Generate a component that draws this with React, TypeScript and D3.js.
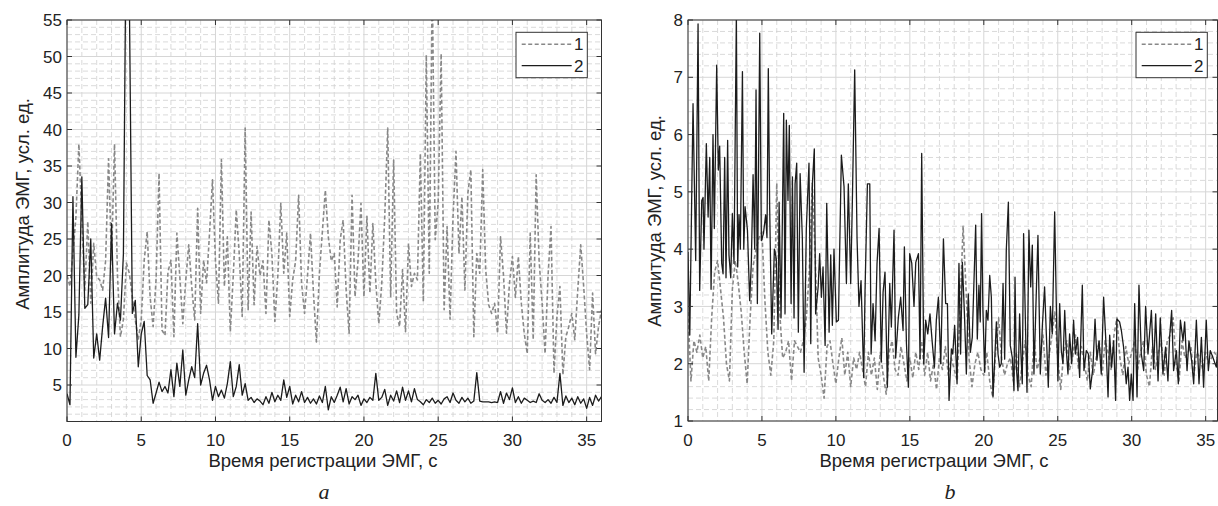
import React from 'react';
import * as d3 from 'd3';

const STEP = 0.2;

const xTicks = [0, 5, 10, 15, 20, 25, 30, 35];
const aYTicks = [5, 10, 15, 20, 25, 30, 35, 40, 45, 50, 55];
const bYTicks = [1, 2, 3, 4, 5, 6, 7, 8];
const legendLabels = ['1', '2'];
const xTitle = 'Время регистрации ЭМГ, с';
const yTitle = 'Амплитуда ЭМГ, усл. ед.';

// panel a, curve 1 (dashed grey)
const a1 = [
  20, 18.5, 23, 28, 38, 27.6, 18, 27.4, 16.2, 24.4,
  19.8, 19.4, 18, 22, 36, 22, 38, 20, 11.6, 14,
  21.7, 20.3, 17.1, 13.9, 11.2, 13.9, 22.1, 26, 17, 13,
  19.5, 34, 12.5, 11.8, 20.5, 22.1, 11.6, 25.8, 19.8, 13.4,
  19.4, 24.2, 18.5, 13.9, 29.2, 14.8, 22.1, 19, 25.8, 33.1,
  22, 16.2, 35.9, 18.5, 25.3, 12.3, 20, 29, 23, 14.4,
  40.2, 15.3, 28.7, 16, 24, 20, 22, 14.8, 27.6, 23,
  13.7, 20, 29.9, 20.3, 25.8, 14.4, 19.4, 22, 31, 18.9,
  14.8, 20, 25.8, 17.6, 10.9, 20.3, 26, 31.7, 25.3, 22,
  23, 15.7, 24.9, 27.6, 18, 12.1, 31, 17.1, 22, 29.9,
  17.1, 28.1, 17.6, 27.1, 19, 13.4, 18.9, 28, 40.2, 17.1,
  35.8, 14.8, 13, 20.8, 12.3, 24.4, 18.5, 20.3, 19.4, 36.7,
  16.4, 50.2, 20.3, 60, 24.9, 30, 50.4, 15.3, 26.7, 14,
  28, 37, 23, 30.8, 18, 31.3, 34.5, 11.6, 23, 20.3,
  34.5, 20.8, 16, 14.8, 16.2, 12.1, 25.3, 20, 12.1, 18.9,
  22.6, 17, 22.6, 16.2, 12, 9.3, 25.8, 11.2, 33.8, 22,
  16.2, 9.3, 20, 26.7, 6.6, 14.4, 18.5, 6.4, 11.6, 13,
  14.8, 11.2, 18, 24.2, 18.5, 12, 7.1, 17.6, 9.3, 13,
  15.3,
];

// panel a, curve 2 (solid black)
const a2 = [
  3.8, 2.3, 30.8, 8.8, 14.6, 33.5, 15.5, 16, 25, 8.7,
  12, 8.4, 13, 16.9, 11.5, 27.1, 12, 16.2, 13.9, 23,
  72, 58, 14.8, 16.6, 7.5, 12, 13.7, 6.3, 5.7, 2.5,
  3.9, 5.4, 4.1, 4.8, 3.9, 7.1, 3.4, 8, 4.8, 9.8,
  3.6, 5.7, 7.5, 6, 13.4, 5, 6.6, 7.7, 5.7, 2.9,
  4.8, 3.4, 4.3, 3.2, 5.2, 8.2, 3.4, 4.8, 7.8, 3.6,
  5.2, 2.9, 3.3, 2.6, 3.1, 2.8, 2.3, 3.4, 2.5, 4.0,
  2.7, 3.6, 2.9, 5.7, 3.3, 4.8, 2.4, 3.6, 2.7, 4.1,
  2.6, 3.3, 2.5, 3.1, 2.4, 3.5, 2.6, 4.8, 1.6, 3.4,
  2.6, 3.6, 4.7, 2.7, 4.5, 2.4, 3.4, 3.0, 3.6, 2.2,
  3.1, 2.6, 3.3, 2.9, 6.6, 2.9, 3.3, 4.4, 2.2, 3.6,
  2.8, 4.2, 2.6, 4.7, 2.9, 4.2, 2.7, 4.5, 3.0, 2.7,
  2.3, 3.0, 2.6, 3.2, 2.5, 2.9, 2.4, 3.1, 3.4, 2.6,
  3.9, 2.9, 2.5, 3.3, 2.7, 3.2, 2.5, 2.8, 6.7, 2.8,
  2.7, 2.7, 2.7, 2.6, 2.7, 2.6, 4.1, 2.5, 3.9, 3.0,
  4.6, 2.6, 3.4, 2.5, 3.2, 2.9, 2.6, 2.8, 2.6, 3.8,
  2.9, 2.6, 3.0, 2.5, 3.3, 2.6, 6.6, 2.2, 3.5, 2.6,
  3.2, 2.3, 3.4, 2.5, 3.1, 1.8, 3.3, 2.2, 3.6, 2.8,
  3.4,
];

// panel b, curve 1 (dashed grey)
const b1 = [
  2.9, 1.7, 2.4, 2.2, 2.5, 2.1, 2.3, 1.7, 2.8, 3.6,
  3.8, 3.3, 2.8, 2.0, 1.7, 3.3, 3.8, 3.4, 2.9, 2.2,
  1.65, 2.8, 3.7, 4.0, 4.2, 4.3, 3.1, 2.2, 1.8, 2.4,
  5.15, 2.9, 2.1, 2.2, 2.4, 1.7, 2.4, 2.3, 2.2, 2.4,
  2.8, 3.6, 5.15, 3.9, 2.1, 1.8, 1.4, 2.3, 2.4, 2.0,
  1.65, 2.1, 2.45, 1.8, 2.2, 1.6, 2.1, 1.9, 2.2, 1.9,
  1.6, 2.2, 1.8, 2.1, 1.55, 2.2, 1.8, 1.47, 2.2, 2.4,
  1.9, 1.8, 2.3, 2.0, 1.7, 2.1, 1.75, 2.2, 1.9, 2.4,
  1.8, 2.2, 1.7, 2.0, 1.55, 2.1, 1.9, 2.3, 1.8, 2.1,
  1.9, 1.7, 3.0, 4.4, 3.3, 2.1, 1.6, 2.0, 2.2, 1.9,
  1.8, 2.2, 1.7, 1.42, 2.2, 2.8, 2.1, 1.8, 2.0, 2.1,
  1.7, 2.2, 1.6, 2.0, 2.4, 1.8, 1.6, 2.4, 1.9, 2.1,
  2.5, 1.8, 2.1, 2.5, 2.9, 2.1, 1.55, 2.2, 2.4, 1.9,
  2.1, 2.5, 1.9, 2.3, 2.0, 1.7, 2.2, 1.8, 2.1, 2.4,
  1.8, 2.4, 2.2, 1.9, 2.5, 2.8, 2.1, 1.8, 2.3, 2.0,
  2.2, 2.4, 1.9, 2.2, 2.4, 1.8, 1.6, 2.3, 1.9, 2.2,
  2.4, 1.8, 2.4, 2.5, 2.8, 2.0, 1.7, 2.4, 2.1, 2.2,
  2.3, 1.8, 2.2, 2.1, 1.9, 2.2, 2.0, 2.1, 2.2, 2.1,
];

// panel b, curve 2 (solid black): [time, s; amplitude] read at each turning point
const b2: [number, number][] = [
  [0, 3.95], [0.12, 2.5], [0.34, 6.54], [0.52, 3.8], [0.68, 7.93], [0.79, 3.28], [0.93, 4.85], [1.02, 4.9],
  [1.08, 4.0], [1.24, 5.84], [1.36, 4.56], [1.47, 5.6], [1.56, 3.3], [1.69, 6.0], [1.78, 4.36], [1.94, 7.21],
  [2.05, 5.38], [2.14, 5.8], [2.28, 3.75], [2.37, 3.57], [2.48, 5.6], [2.57, 3.5], [2.68, 5.9], [2.77, 3.9],
  [2.89, 3.5], [3.0, 4.62], [3.11, 3.75], [3.27, 8.1], [3.36, 3.69], [3.45, 4.6], [3.54, 4.0], [3.68, 7.1],
  [3.77, 4.0], [3.86, 4.74], [4.02, 4.33], [4.17, 3.1], [4.28, 3.75], [4.4, 5.3], [4.51, 4.0], [4.6, 6.78],
  [4.69, 3.05], [4.76, 5.09], [4.85, 7.77], [4.96, 4.15], [5.1, 4.27], [5.25, 4.6], [5.34, 4.2], [5.43, 7.15],
  [5.52, 4.74], [5.66, 2.52], [5.84, 4.0], [5.97, 3.83], [6.09, 2.6], [6.16, 4.82], [6.29, 2.8], [6.38, 4.5],
  [6.47, 6.37], [6.56, 2.87], [6.65, 6.25], [6.76, 4.85], [6.85, 6.16], [6.97, 3.05], [7.06, 5.26], [7.17, 2.8],
  [7.24, 5.14], [7.35, 5.5], [7.46, 2.55], [7.58, 5.32], [7.73, 4.2], [7.85, 1.85], [8.0, 4.36], [8.18, 5.5],
  [8.3, 2.35], [8.41, 5.14], [8.54, 5.75], [8.63, 2.87], [8.8, 3.34], [8.9, 3.92], [9.02, 3.16], [9.13, 3.69],
  [9.27, 2.32], [9.38, 4.8], [9.54, 2.55], [9.65, 3.9], [9.76, 2.67], [9.87, 4.0], [10.03, 2.73], [10.17, 2.76],
  [10.37, 5.64], [10.55, 5.09], [10.71, 3.4], [10.84, 5.14], [11.0, 3.4], [11.11, 4.8], [11.27, 7.13], [11.43, 4.18],
  [11.56, 3.0], [11.7, 3.45], [11.88, 1.76], [11.97, 3.28], [12.13, 5.14], [12.29, 5.14], [12.38, 2.17], [12.51, 3.05],
  [12.65, 2.4], [12.78, 3.75], [12.92, 4.36], [13.07, 2.03], [13.19, 3.25], [13.32, 3.6], [13.48, 1.59], [13.64, 3.4],
  [13.75, 2.64], [13.93, 4.33], [14.04, 2.1], [14.22, 2.8], [14.38, 3.16], [14.54, 2.58], [14.63, 4.04], [14.77, 2.35],
  [14.9, 1.59], [14.99, 3.92], [15.13, 3.75], [15.28, 3.0], [15.4, 3.77], [15.58, 3.92], [15.69, 2.08], [15.8, 5.67],
  [15.94, 2.0], [16.07, 2.76], [16.21, 2.52], [16.36, 2.87], [16.52, 2.35], [16.66, 1.94], [16.79, 2.76], [16.93, 3.16],
  [17.09, 2.0], [17.27, 4.18], [17.42, 3.05], [17.54, 3.05], [17.65, 1.36], [17.81, 2.26], [17.9, 2.17], [18.03, 2.67],
  [18.19, 1.65], [18.32, 3.75], [18.43, 2.17], [18.55, 3.77], [18.7, 2.8], [18.82, 1.82], [18.95, 3.22], [19.09, 2.2],
  [19.22, 2.46], [19.45, 4.42], [19.56, 2.43], [19.67, 3.37], [19.76, 2.73], [19.85, 4.62], [19.94, 2.93], [20.06, 1.85],
  [20.17, 2.93], [20.28, 2.76], [20.4, 3.54], [20.51, 3.16], [20.62, 1.42], [20.73, 2.03], [20.85, 2.73], [20.96, 2.17],
  [21.07, 1.94], [21.18, 2.0], [21.3, 3.4], [21.41, 2.08], [21.52, 3.98], [21.66, 4.82], [21.79, 2.32], [21.93, 2.1],
  [22.04, 1.53], [22.11, 3.51], [22.2, 1.94], [22.31, 1.53], [22.42, 2.87], [22.51, 2.17], [22.6, 1.65], [22.69, 4.27],
  [22.83, 2.52], [22.92, 1.5], [23.05, 4.33], [23.17, 3.34], [23.28, 4.07], [23.39, 1.82], [23.5, 2.8], [23.66, 4.24],
  [23.82, 1.82], [23.96, 2.67], [24.11, 3.34], [24.23, 2.5], [24.36, 1.59], [24.5, 3.0], [24.63, 2.52], [24.79, 4.65],
  [24.9, 3.05], [25.01, 1.7], [25.13, 3.05], [25.24, 2.23], [25.35, 2.0], [25.47, 2.93], [25.58, 2.23], [25.69, 1.82],
  [25.8, 2.52], [25.94, 2.0], [26.07, 2.76], [26.19, 2.17], [26.34, 2.46], [26.48, 1.76], [26.66, 3.37], [26.77, 1.88],
  [26.93, 2.23], [27.07, 2.17], [27.2, 1.56], [27.38, 1.94], [27.52, 2.78], [27.65, 2.06], [27.79, 2.4], [27.94, 1.82],
  [28.1, 3.16], [28.24, 2.46], [28.4, 1.42], [28.51, 2.5], [28.64, 1.94], [28.78, 2.4], [28.91, 1.36], [29.0, 2.78],
  [29.18, 2.73], [29.3, 2.58], [29.45, 2.29], [29.63, 1.65], [29.75, 1.94], [29.86, 1.36], [29.97, 1.82], [30.09, 1.36],
  [30.2, 3.05], [30.36, 1.42], [30.49, 3.37], [30.65, 2.17], [30.81, 1.88], [30.94, 3.0], [31.1, 2.17], [31.33, 2.93],
  [31.48, 1.91], [31.62, 2.87], [31.78, 1.7], [31.93, 2.8], [32.11, 1.82], [32.29, 2.29], [32.45, 1.7], [32.56, 2.46],
  [32.7, 2.93], [32.83, 1.88], [33.02, 2.23], [33.15, 1.65], [33.29, 2.76], [33.47, 2.4], [33.58, 2.73], [33.74, 1.88],
  [33.87, 2.4], [34.05, 2.06], [34.19, 1.65], [34.37, 2.76], [34.55, 1.65], [34.71, 2.46], [34.86, 1.59], [35.04, 2.76],
  [35.18, 1.88], [35.31, 2.23], [35.49, 2.11], [35.72, 1.94], [35.8, 2.2],
];

type Pt = [number, number];
const sampled = (vals: number[]): Pt[] => vals.map((v, i) => [i * STEP, v]);

const FONT = 'Liberation Sans, Arial, Helvetica, sans-serif';
const GREY = '#888';
const BLACK = '#1c1c1c';
const AXIS = '#333';

interface PanelProps {
  id: string;
  box: { left: number; right: number; top: number; bottom: number };
  xMax: number;
  yDomain: [number, number];
  yTicks: number[];
  yMinorStep: number;
  s1: Pt[];
  s2: Pt[];
  legendRight: number;
  yTitlePos: [number, number];
  xTitleX: number;
  letter: string;
  letterPos: [number, number];
}

function Panel(p: PanelProps) {
  const { box } = p;
  const x = d3.scaleLinear().domain([0, p.xMax]).range([box.left, box.right]);
  const y = d3.scaleLinear().domain(p.yDomain).range([box.bottom, box.top]);

  const minorX = d3.range(1, Math.floor(p.xMax) + 1).filter((v) => v % 5 !== 0);
  const nMinorY = Math.round((p.yDomain[1] - p.yDomain[0]) / p.yMinorStep);
  const minorY = d3
    .range(1, nMinorY)
    .map((i) => p.yDomain[0] + i * p.yMinorStep)
    .filter((v) => !p.yTicks.some((t) => Math.abs(t - v) < 1e-6));

  const line = d3
    .line<Pt>()
    .x((d) => x(d[0]))
    .y((d) => y(d[1]));

  const lw = 71.3;
  const lx = p.legendRight - lw;
  const ly = 32.3;
  const rows = [44.3, 65.7];
  const tick = 5;

  return (
    <g>
      <defs>
        <clipPath id={`clip-${p.id}`}>
          <rect x={box.left} y={box.top} width={box.right - box.left} height={box.bottom - box.top} />
        </clipPath>
      </defs>

      {/* minor grid */}
      <g stroke="#d0d0d0" strokeWidth={0.8} strokeDasharray="5 3">
        {minorX.map((v) => (
          <line key={`mx${v}`} x1={x(v)} x2={x(v)} y1={box.top} y2={box.bottom} />
        ))}
        {minorY.map((v) => (
          <line key={`my${v}`} x1={box.left} x2={box.right} y1={y(v)} y2={y(v)} />
        ))}
      </g>
      {/* major grid */}
      <g stroke="#d6d6d6" strokeWidth={1}>
        {xTicks.map((v) => (
          <line key={`gx${v}`} x1={x(v)} x2={x(v)} y1={box.top} y2={box.bottom} />
        ))}
        {p.yTicks.map((v) => (
          <line key={`gy${v}`} x1={box.left} x2={box.right} y1={y(v)} y2={y(v)} />
        ))}
      </g>

      <g clipPath={`url(#clip-${p.id})`} fill="none" strokeLinejoin="round">
        <path d={line(p.s1) || ''} stroke={GREY} strokeWidth={1.6} strokeDasharray="4 2.5" />
        <path d={line(p.s2) || ''} stroke={BLACK} strokeWidth={1.3} />
      </g>

      {/* box and inner ticks */}
      <rect
        x={box.left}
        y={box.top}
        width={box.right - box.left}
        height={box.bottom - box.top}
        fill="none"
        stroke={AXIS}
        strokeWidth={1}
      />
      <g stroke={AXIS} strokeWidth={1}>
        {xTicks.map((v) => (
          <g key={`tx${v}`}>
            <line x1={x(v)} x2={x(v)} y1={box.bottom} y2={box.bottom - tick} />
            <line x1={x(v)} x2={x(v)} y1={box.top} y2={box.top + tick} />
          </g>
        ))}
        {p.yTicks.map((v) => (
          <g key={`ty${v}`}>
            <line x1={box.left} x2={box.left + tick} y1={y(v)} y2={y(v)} />
            <line x1={box.right} x2={box.right - tick} y1={y(v)} y2={y(v)} />
          </g>
        ))}
      </g>

      <g fontFamily={FONT} fontSize={17} fill="#222">
        {xTicks.map((v) => (
          <text key={`lx${v}`} x={x(v)} y={446} textAnchor="middle">
            {v}
          </text>
        ))}
        {p.yTicks.map((v) => (
          <text key={`ly${v}`} x={box.left - 5} y={y(v)} dy="0.36em" textAnchor="end">
            {v}
          </text>
        ))}
      </g>

      <g fontFamily={FONT} fontSize={18.5} fill="#222">
        <text x={p.xTitleX} y={467} textAnchor="middle">
          {xTitle}
        </text>
        <text
          transform={`translate(${p.yTitlePos[0]},${p.yTitlePos[1]}) rotate(-90)`}
          textAnchor="middle"
        >
          {yTitle}
        </text>
      </g>

      <text
        x={p.letterPos[0]}
        y={p.letterPos[1]}
        fontFamily="Liberation Serif, Times New Roman, serif"
        fontStyle="italic"
        fontSize={22}
        textAnchor="middle"
        fill="#222"
      >
        {p.letter}
      </text>

      {/* legend */}
      <rect x={lx} y={ly} width={lw} height={45.4} fill="#fff" stroke={AXIS} strokeWidth={1} />
      {legendLabels.map((lab, i) => (
        <g key={lab}>
          <line
            x1={lx + 5.7}
            x2={lx + 55.7}
            y1={rows[i]}
            y2={rows[i]}
            stroke={i === 0 ? GREY : BLACK}
            strokeWidth={i === 0 ? 1.5 : 1.3}
            strokeDasharray={i === 0 ? '4 2.5' : undefined}
          />
          <text x={lx + 58} y={rows[i]} dy="0.36em" fontFamily={FONT} fontSize={17} fill="#222">
            {lab}
          </text>
        </g>
      ))}
    </g>
  );
}

export default function App() {
  return (
    <svg
      width={1218}
      height={506}
      style={{ position: 'absolute', left: 0, top: 0, background: '#fff' }}
    >
      <Panel
        id="a"
        box={{ left: 67, right: 601.5, top: 20, bottom: 421.5 }}
        xMax={36}
        yDomain={[0, 55]}
        yTicks={aYTicks}
        yMinorStep={1}
        s1={sampled(a1)}
        s2={sampled(a2)}
        legendRight={587.3}
        yTitlePos={[28.5, 204]}
        xTitleX={323}
        letter="a"
        letterPos={[324, 499]}
      />
      <Panel
        id="b"
        box={{ left: 688, right: 1217.5, top: 20, bottom: 421 }}
        xMax={35.8}
        yDomain={[1, 8]}
        yTicks={bYTicks}
        yMinorStep={0.2}
        s1={sampled(b1)}
        s2={b2}
        legendRight={1207.3}
        yTitlePos={[661, 221]}
        xTitleX={934}
        letter="b"
        letterPos={[950, 499]}
      />
    </svg>
  );
}
